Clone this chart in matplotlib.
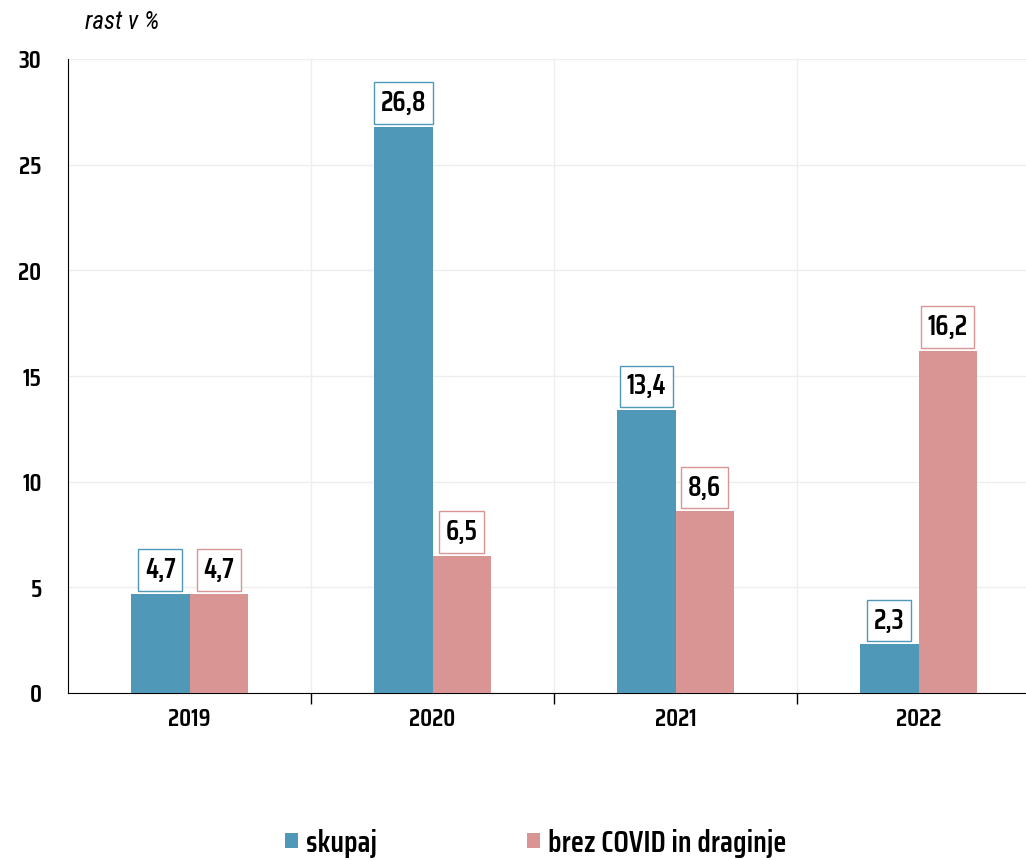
import numpy as np
import matplotlib.pyplot as plt

plt.rcParams['font.family'] = ['Saira Condensed', 'DejaVu Sans']

years = ['2019', '2020', '2021', '2022']
skupaj = [4.7, 26.8, 13.4, 2.3]
brez_covid = [4.7, 6.5, 8.6, 16.2]
series_names = ['skupaj', 'brez COVID in draginje']
colors = ['#4F98B8', '#D99594']

fig = plt.figure(figsize=(10.26, 8.6), dpi=100)
ax = fig.add_axes([68/1026, 167/860, 972/1026, 634/860])

x = np.arange(len(years))
w = 0.24
bars1 = ax.bar(x - w/2, skupaj, w, color=colors[0], label=series_names[0], zorder=3)
bars2 = ax.bar(x + w/2, brez_covid, w, color=colors[1], label=series_names[1], zorder=3)

for bars, vals, c in [(bars1, skupaj, colors[0]), (bars2, brez_covid, colors[1])]:
    for b, v in zip(bars, vals):
        ax.annotate(f'{v:.1f}'.replace('.', ','), (b.get_x() + b.get_width()/2, v),
                    xytext=(0, 17), textcoords='offset points', ha='center', va='center',
                    fontsize=20, fontweight='semibold', color='black', zorder=5,
                    bbox=dict(boxstyle='square,pad=0.24', fc='white', ec=c, lw=1))

ax.set_xlim(-0.5, 3.5)
ax.set_ylim(0, 30)
ax.set_yticks(range(0, 31, 5))
ax.yaxis.grid(True, color='#eeeeee', lw=1, zorder=0)
for s in [0.5, 1.5, 2.5]:
    ax.axvline(s, color='#eeeeee', lw=1, zorder=0)

ax.set_xticks([0.5, 1.5, 2.5])
ax.set_xticklabels([])
ax.tick_params(axis='x', direction='out', length=8, width=1, color='black')
ax.set_xticks(x, minor=True)
ax.set_xticklabels(years, minor=True, fontsize=18, fontweight='semibold')
ax.tick_params(axis='x', which='minor', length=0, pad=10)
ax.tick_params(axis='y', length=0, pad=19, labelsize=18)
for t in ax.get_yticklabels():
    t.set_fontweight('semibold')

for s in ['top', 'right']:
    ax.spines[s].set_visible(False)
ax.spines['left'].set_color('black')
ax.spines['bottom'].set_color('black')

fig.text(85/1026, 1 - 22/860, 'rast v %', fontsize=18, style='italic', va='center', ha='left',
         family=['Roboto Condensed', 'DejaVu Sans'])

fig.legend(loc='center', bbox_to_anchor=(0.522, 1 - 843/860), ncol=2, frameon=False,
           handlelength=0.45, handleheight=0.4, columnspacing=4.9,
           handletextpad=0.25, prop={'family': ['Saira Condensed', 'DejaVu Sans'], 'size': 22, 'weight': 'semibold'})

fig.savefig('out.png', dpi=100)
